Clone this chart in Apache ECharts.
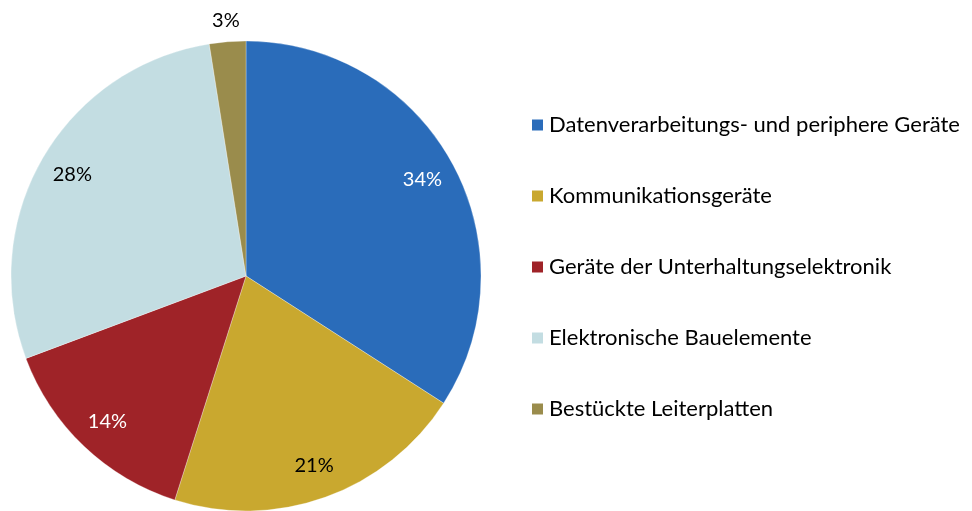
<!DOCTYPE html>
<html style="height: 100%">
<head>
<meta charset="utf-8">
<script type="text/javascript" src="https://cdn.jsdelivr.net/npm/echarts@6/dist/echarts.min.js"></script>
</head>
<body style="height: 100%; margin: 0; background: #fff">
<div id="container" style="width: 972px; height: 511px"></div>
<script type="text/javascript">
// shares of the sectors, percent
var categories = ['Datenverarbeitungs- und periphere Geräte', 'Kommunikationsgeräte',
    'Geräte der Unterhaltungselektronik', 'Elektronische Bauelemente', 'Bestückte Leiterplatten'];
var shares = [34.1, 20.8, 14.4, 28.2, 2.5];
var colors = ['#2a6cba', '#c9a82f', '#9f2328', '#c3dde2', '#9a8c4c'];
var labelColors = ['#fff', '#000', '#fff', '#000', '#000'];

var fontName = 'Lato';
var center = [246, 276];
var total = 0;
for (var k = 0; k < shares.length; k++) total += shares[k];

var dom = document.getElementById('container');
var myChart = echarts.init(dom);

function pctLabel(params) {
    // round away float noise first, then to whole percent
    var p = Math.round(params.value * 100 / total * 1000) / 1000;
    return Math.round(p) + '%';
}

function pieData(showFn) {
    var d = [];
    for (var i = 0; i < categories.length; i++) {
        d.push({
            name: categories[i],
            value: shares[i],
            label: { show: showFn(i), color: labelColors[i] }
        });
    }
    return d;
}

var option = {
    animation: false,
    color: colors,
    legend: {
        orient: 'vertical',
        left: 530,
        top: 114,
        padding: 0,
        itemWidth: 13,
        itemHeight: 13,
        itemGap: 49,
        icon: 'rect',
        textStyle: { fontFamily: fontName, fontSize: 22, color: '#000' },
        data: categories,
        selectedMode: false
    },
    series: [{
        // the pie itself
        name: 'main',
        type: 'pie',
        center: center,
        radius: 235,
        startAngle: 90,
        clockwise: true,
        label: { show: false },
        labelLine: { show: false },
        itemStyle: { borderColor: '#fff', borderWidth: 0.3 },
        silent: true,
        data: pieData(function () { return false; })
    }, {
        // ring used only to place the inner labels
        name: 'labels',
        type: 'pie',
        center: center,
        radius: [168, 228],
        startAngle: 90,
        legendHoverLink: false,
        itemStyle: { color: 'rgba(0,0,0,0)' },
        label: { position: 'inside', fontFamily: fontName, fontSize: 20, formatter: pctLabel },
        labelLine: { show: false },
        silent: true,
        data: pieData(function (i) { return shares[i] >= 5; })
    }, {
        // ring outside the pie for the small slice
        name: 'labelsOut',
        type: 'pie',
        center: center,
        radius: [245, 262],
        startAngle: 90,
        itemStyle: { color: 'rgba(0,0,0,0)' },
        label: { position: 'inside', fontFamily: fontName, fontSize: 20, formatter: pctLabel },
        labelLine: { show: false },
        silent: true,
        data: pieData(function (i) { return shares[i] < 5; })
    }]
};
myChart.setOption(option);
</script>
</body>
</html>
